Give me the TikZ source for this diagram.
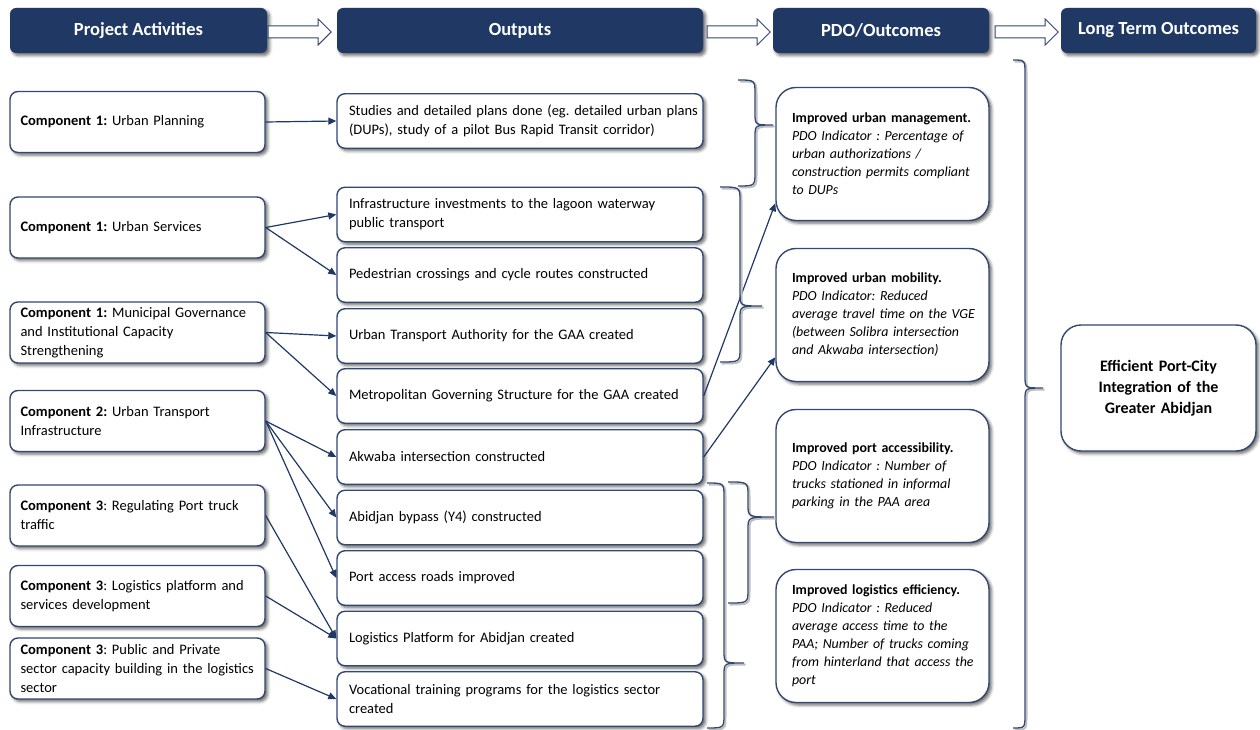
\documentclass[tikz,border=0pt]{standalone}
\usepackage{fontspec}
\setmainfont{Carlito}
\usepackage{tikz}
\usetikzlibrary{arrows.meta}
\usetikzlibrary{shadows.blur}
\definecolor{headnavy}{RGB}{31,56,100}
\colorlet{linenavy}{headnavy!92!white}
\newcommand{\sidebrace}[6]{%
	\draw[bracepath] (#1,#4) .. controls (#2,#4) .. (#2,#4+14) -- (#2,#5-12) .. controls (#2,#5) .. (#3,#5) .. controls (#2,#5) .. (#2,#5+12) -- (#2,#6-14) .. controls (#2,#6) .. (#1,#6);%
}
\newcommand{\keepline}[1]{\mbox{#1}}
\frenchspacing

\begin{document}
\begin{tikzpicture}[x=1pt,y=-1pt,
	softshadow/.style={blur shadow={shadow xshift=2.5pt,shadow yshift=-2.5pt,shadow blur radius=3pt,shadow opacity=60}},
	head/.style={fill=headnavy,text=white,rounded corners=6pt,minimum height=45pt,inner sep=0pt,font=\bfseries\fontsize{18.5}{21}\selectfont,softshadow},
	card/.style={draw=linenavy,fill=white,line width=1.4pt,rounded corners=8pt,align=left,inner xsep=12pt,inner ysep=0pt,font=\fontsize{14.5}{19}\selectfont,softshadow},
	comp/.style={card,inner xsep=10.5pt,text width=234pt,minimum height=61pt},
	outp/.style={card,text width=342pt,minimum height=54.5pt},
	pdo/.style={card,rounded corners=20pt,inner xsep=16pt,text width=181pt,minimum height=133pt,font=\fontsize{13.9}{18}\selectfont},
	goal/.style={card,rounded corners=20pt,align=center,text width=171pt,minimum height=126pt,font=\bfseries\fontsize{16}{21}\selectfont},
	link/.style={draw=headnavy,line width=1.2pt,-{Triangle[length=8pt,width=7pt]}},
	hollow/.style={draw=linenavy,fill=white,line width=1pt},
	bracepath/.style={draw=linenavy,line width=1.3pt,preaction={draw=black!25,line width=2pt,transform canvas={shift={(1.5pt,-1.5pt)}}}}]
		\useasboundingbox (0,0) rectangle (1260,730);
		\node[head,minimum width=257pt] (hAct) at (138.5,30.5) {Project Activities};
		\node[head,minimum width=366pt] (hOut) at (520,30.5) {Outputs};
		\node[head,minimum width=216pt] (hPdo) at (881,30.5) {PDO/Outcomes};
		\node[head,minimum width=195pt] (hLong) at (1158.5,30.5) {Long Term Outcomes};
		\draw[hollow] ([xshift=1pt,yshift=-1.5pt]hAct.east) +(0,-6) -- +(50,-6) -- +(50,-13) -- +(63,0) -- +(50,13) -- +(50,6) -- +(0,6) -- cycle;
		\draw[hollow] ([xshift=4pt,yshift=-1.5pt]hOut.east) +(0,-6) -- +(50,-6) -- +(50,-13) -- +(63,0) -- +(50,13) -- +(50,6) -- +(0,6) -- cycle;
		\draw[hollow] ([xshift=6pt,yshift=-1.5pt]hPdo.east) +(0,-6) -- +(50,-6) -- +(50,-13) -- +(63,0) -- +(50,13) -- +(50,6) -- +(0,6) -- cycle;
		\node[comp] (c1) at (137.5,122) {\textbf{Component 1:} Urban Planning};
		\node[comp] (c2) at (137.5,227.5) {\textbf{Component 1:} Urban Services};
		\node[comp] (c3) at (137.5,332.5) {\textbf{Component 1:} Municipal Governance\\and Institutional Capacity\\Strengthening};
		\node[comp] (c4) at (137.5,421) {\textbf{Component 2:} Urban Transport\\Infrastructure};
		\node[comp] (c5) at (137.5,515.5) {\textbf{Component 3}: Regulating Port truck\\traffic};
		\node[comp] (c6) at (137.5,596) {\textbf{Component 3}: Logistics platform and\\services development};
		\node[comp] (c7) at (137.5,668.5) {\textbf{Component 3}: Public and Private\\\keepline{sector capacity building in the logistics}\\sector};
		\node[outp] (o1) at (520,121) {\keepline{Studies and detailed plans done (eg. detailed urban plans}\\(DUPs), study of a pilot Bus Rapid Transit corridor)};
		\node[outp] (o2) at (520,214.5) {Infrastructure investments to the lagoon waterway\\public transport};
		\node[outp] (o3) at (520,275) {Pedestrian crossings and cycle routes constructed};
		\node[outp] (o4) at (520,336) {Urban Transport Authority for the GAA created};
		\node[outp] (o5) at (520,396) {Metropolitan Governing Structure for the GAA created};
		\node[outp] (o6) at (520,457) {Akwaba intersection constructed};
		\node[outp] (o7) at (520,517.5) {Abidjan bypass (Y4) constructed};
		\node[outp] (o8) at (520,578) {Port access roads improved};
		\node[outp] (o9) at (520,638.5) {Logistics Platform for Abidjan created};
		\node[outp] (o10) at (520,699) {Vocational training programs for the logistics sector\\created};
		\node[pdo] (p1) at (882.5,154) {\keepline{\textbf{Improved urban management.}}\\\itshape PDO Indicator : Percentage of\\urban authorizations /\\\keepline{construction permits compliant}\\to DUPs};
		\node[pdo] (p2) at (882.5,315) {\textbf{Improved urban mobility.}\\\itshape PDO Indicator: Reduced\\\keepline{average travel time on the VGE}\\\keepline{(between Solibra intersection}\\and Akwaba intersection)};
		\node[pdo] (p3) at (882.5,476) {\keepline{\textbf{Improved port accessibility.}}\\\itshape PDO Indicator : Number of\\trucks stationed in informal\\parking in the PAA area};
		\node[pdo] (p4) at (882.5,636) {\keepline{\textbf{Improved logistics efficiency.}}\\\itshape PDO Indicator : Reduced\\average access time to the\\\keepline{PAA; Number of trucks coming}\\\keepline{from hinterland that access the}\\port};
		\node[goal] (goal) at (1158.5,388) {Efficient Port-City\\Integration of the\\Greater Abidjan};
		\draw[link] (c1.east) -- (o1.west);
		\draw[link] (c2.east) -- (o2.west);
		\draw[link] (c2.east) -- (o3.west);
		\draw[link] (c3.east) -- (o4.west);
		\draw[link] (c3.east) -- (o5.west);
		\draw[link] (c4.east) -- (o6.west);
		\draw[link] (c4.east) -- (o7.west);
		\draw[link] (c4.east) -- (o8.west);
		\draw[link] (c5.east) -- (o9.west);
		\draw[link] (c6.east) -- (o9.west);
		\draw[link] (c7.east) -- (o10.west);
		\draw[link] (o5.east) -- ([yshift=18pt]p1.south west);
		\draw[link] (o6.east) -- ([yshift=25pt]p2.south west);
		\sidebrace{738}{755}{773}{80}{125}{186}
		\sidebrace{720}{740}{762}{187}{306}{362}
		\sidebrace{728}{748}{774}{482}{517}{603}
		\sidebrace{707}{724}{744}{483}{663}{728}
		\sidebrace{1013}{1025}{1043}{60}{388}{728}
\end{tikzpicture}
\end{document}
